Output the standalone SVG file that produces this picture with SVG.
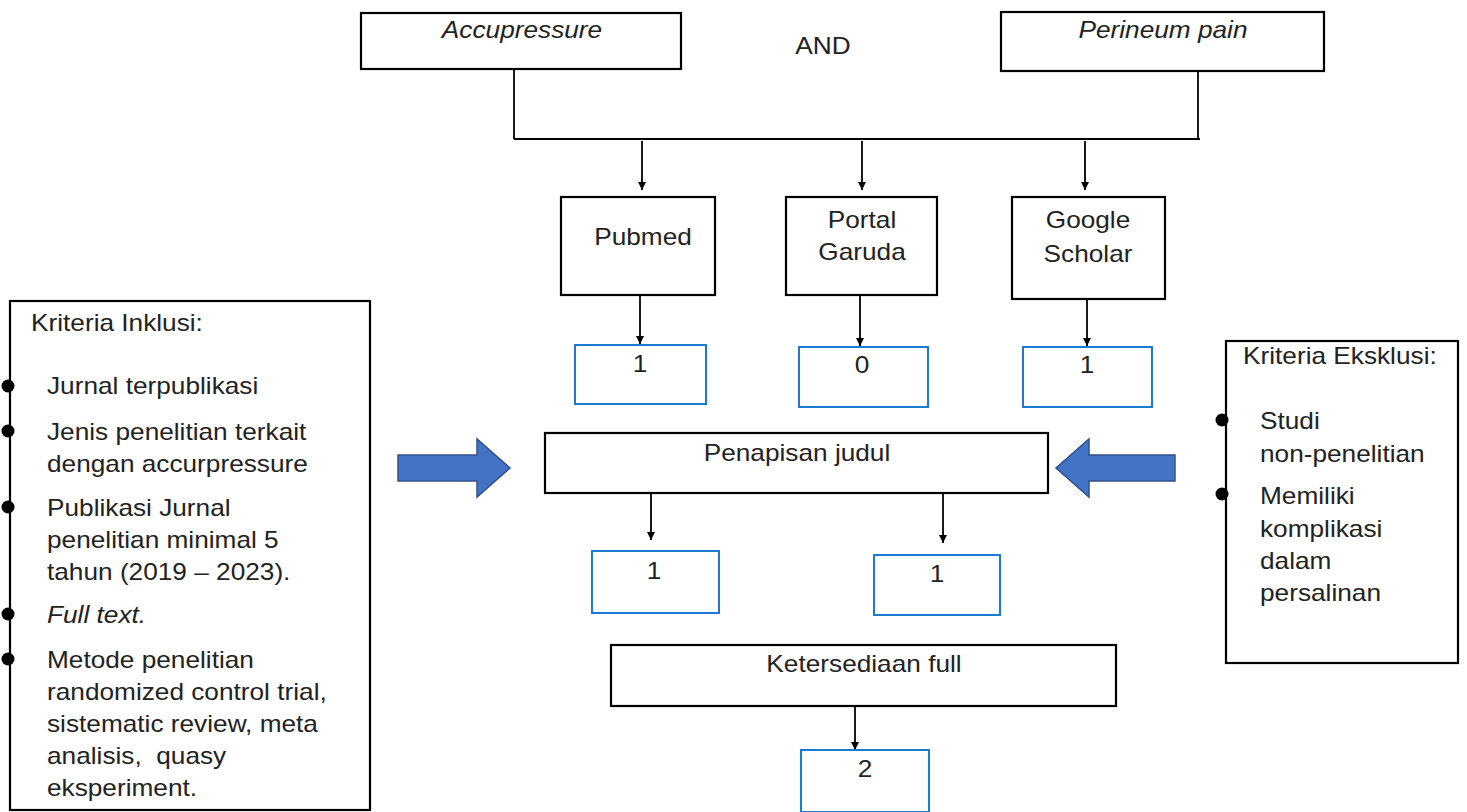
<svg xmlns="http://www.w3.org/2000/svg" width="1467" height="812" viewBox="0 0 1467 812">
<defs>
<style>
text{font-family:"Liberation Sans",Arial,sans-serif;font-size:23px;fill:#222}
.it{font-style:italic}
.c{text-anchor:middle}
.box{fill:#fff;stroke:#000;stroke-width:2.2}
.bbox{fill:#fff;stroke:#1a7bd0;stroke-width:2}
.ln{fill:none;stroke:#000;stroke-width:1.8}
.arr{fill:#4472c4;stroke:#2f528f;stroke-width:1.5}
.dot{fill:#000}
</style>
<marker id="ah" viewBox="0 0 10 10" refX="10" refY="5" markerWidth="8" markerHeight="10" markerUnits="userSpaceOnUse" orient="auto"><path d="M0,0 L10,5 L0,10 z" fill="#000"/></marker>
</defs>
<rect width="1467" height="812" fill="#fff"/>
<g id="connectors">
<path class="ln" d="M514,69 V139 M514,139 H1200 M1198,71 V139"/>
<path class="ln" marker-end="url(#ah)" d="M642,141 V190"/>
<path class="ln" marker-end="url(#ah)" d="M862,141 V190"/>
<path class="ln" marker-end="url(#ah)" d="M1085,141 V190"/>
<path class="ln" marker-end="url(#ah)" d="M640,295 V344"/>
<path class="ln" marker-end="url(#ah)" d="M860,295 V346"/>
<path class="ln" marker-end="url(#ah)" d="M1087,299 V346"/>
<path class="ln" marker-end="url(#ah)" d="M651,493 V540"/>
<path class="ln" marker-end="url(#ah)" d="M943,493 V543"/>
<path class="ln" marker-end="url(#ah)" d="M855,706 V750"/>
</g>
<g id="n-accupressure"><rect class="box" x="361" y="13" width="320" height="56"/><text class="it c" transform="matrix(1.14 0 0 1 522 38)">Accupressure</text></g>
<g id="t-and"><text class="c" transform="matrix(1.14 0 0 1 823 54)">AND</text></g>
<g id="n-perineum"><rect class="box" x="1001" y="12" width="323" height="59"/><text class="it c" transform="matrix(1.14 0 0 1 1163 38)">Perineum pain</text></g>
<g id="n-pubmed"><rect class="box" x="561" y="197" width="154" height="98"/><text class="c" transform="matrix(1.14 0 0 1 643 245)">Pubmed</text></g>
<g id="n-garuda"><rect class="box" x="786" y="197" width="151" height="98"/><text class="c" transform="matrix(1.14 0 0 1 862 228)">Portal</text><text class="c" transform="matrix(1.14 0 0 1 862 260)">Garuda</text></g>
<g id="n-scholar"><rect class="box" x="1012" y="197" width="153" height="102"/><text class="c" transform="matrix(1.14 0 0 1 1088 228)">Google</text><text class="c" transform="matrix(1.14 0 0 1 1088 262)">Scholar</text></g>
<g id="n-r1"><rect class="bbox" x="575" y="345" width="131" height="59"/><text class="c" transform="matrix(1.14 0 0 1 640 372)">1</text></g>
<g id="n-r2"><rect class="bbox" x="799" y="347" width="129" height="60"/><text class="c" transform="matrix(1.14 0 0 1 862 373)">0</text></g>
<g id="n-r3"><rect class="bbox" x="1023" y="347" width="129" height="60"/><text class="c" transform="matrix(1.14 0 0 1 1087 373)">1</text></g>
<g id="n-penapisan"><rect class="box" x="545" y="433" width="503" height="60"/><text class="c" transform="matrix(1.14 0 0 1 797 461)">Penapisan judul</text></g>
<g id="n-s1"><rect class="bbox" x="592" y="551" width="127" height="62"/><text class="c" transform="matrix(1.14 0 0 1 654 579)">1</text></g>
<g id="n-s2"><rect class="bbox" x="874" y="555" width="126" height="60"/><text class="c" transform="matrix(1.14 0 0 1 937 582)">1</text></g>
<g id="n-ketersediaan"><rect class="box" x="611" y="645" width="505" height="61"/><text class="c" transform="matrix(1.14 0 0 1 864 672)">Ketersediaan full</text></g>
<g id="n-final"><rect class="bbox" x="801" y="750" width="128" height="62"/><text class="c" transform="matrix(1.14 0 0 1 865 777)">2</text></g>
<g id="arrow-left"><path class="arr" d="M398,455 H477 V439 L510,468 L477,497 V481 H398 Z"/></g>
<g id="arrow-right"><path class="arr" d="M1175,455 H1089 V439 L1056,468 L1089,497 V481 H1175 Z"/></g>
<g id="n-inklusi">
<rect class="box" x="10" y="301" width="360" height="509"/>
<text transform="matrix(1.14 0 0 1 31 331)">Kriteria Inklusi:</text>
<circle class="dot" cx="8" cy="386" r="6.5"/><circle class="dot" cx="8" cy="431" r="6.5"/><circle class="dot" cx="8" cy="507" r="6.5"/><circle class="dot" cx="8" cy="614" r="6.5"/><circle class="dot" cx="8" cy="659" r="6.5"/>
<text transform="matrix(1.14 0 0 1 47 394)">Jurnal terpublikasi</text>
<text transform="matrix(1.14 0 0 1 47 440)">Jenis penelitian terkait</text>
<text transform="matrix(1.14 0 0 1 47 472)">dengan accurpressure</text>
<text transform="matrix(1.14 0 0 1 47 516)">Publikasi Jurnal</text>
<text transform="matrix(1.14 0 0 1 47 548)">penelitian minimal 5</text>
<text transform="matrix(1.14 0 0 1 47 580)">tahun (2019 – 2023).</text>
<text class="it" transform="matrix(1.14 0 0 1 47 623)">Full text.</text>
<text transform="matrix(1.14 0 0 1 47 668)">Metode penelitian</text>
<text transform="matrix(1.14 0 0 1 47 700)">randomized control trial,</text>
<text transform="matrix(1.14 0 0 1 47 732)">sistematic review, meta</text>
<text transform="matrix(1.14 0 0 1 47 764)" xml:space="preserve">analisis,  quasy</text>
<text transform="matrix(1.14 0 0 1 47 796)">eksperiment.</text>
</g>
<g id="n-eksklusi">
<rect class="box" x="1226" y="341" width="232" height="322"/>
<text transform="matrix(1.14 0 0 1 1243 364)">Kriteria Eksklusi:</text>
<circle class="dot" cx="1222" cy="420" r="6.5"/><circle class="dot" cx="1222" cy="494" r="6.5"/>
<text transform="matrix(1.14 0 0 1 1260 429)">Studi</text>
<text transform="matrix(1.14 0 0 1 1260 462)">non-penelitian</text>
<text transform="matrix(1.14 0 0 1 1260 504)">Memiliki</text>
<text transform="matrix(1.14 0 0 1 1260 537)">komplikasi</text>
<text transform="matrix(1.14 0 0 1 1260 569)">dalam</text>
<text transform="matrix(1.14 0 0 1 1260 601)">persalinan</text>
</g>
</svg>
